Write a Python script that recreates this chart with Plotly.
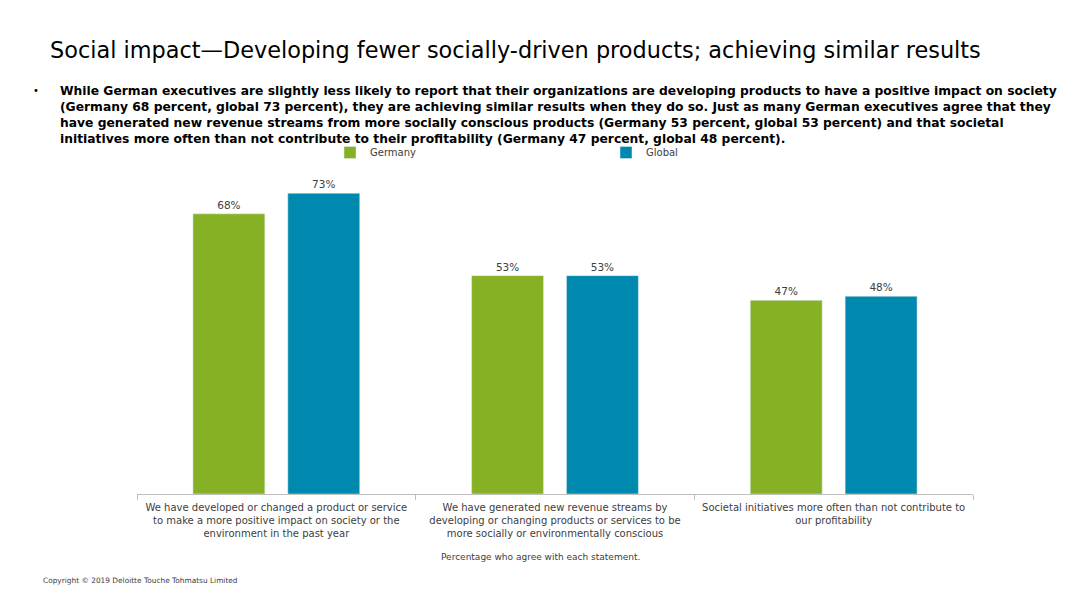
import plotly.graph_objects as go

categories = [
    "We have developed or changed a product or service<br>to make a more positive impact on society or the<br>environment in the past year",
    "We have generated new revenue streams by<br>developing or changing products or services to be<br>more socially or environmentally conscious",
    "Societal initiatives more often than not contribute to<br>our profitability",
]
germany = [68, 53, 47]
global_vals = [73, 53, 48]
series_names = ["Germany", "Global"]

GREEN = "#86B125"
BLUE = "#0089AE"
FONT = "DejaVu Sans"
TXT = "#404040"

W, H = 1080, 608
OFF = 8  # page body margin


def px(x):
    return (x - OFF) / W


def py(y):
    return 1 - (y - OFF) / H


fig = go.Figure()
for name, vals, col in [(series_names[0], germany, GREEN), (series_names[1], global_vals, BLUE)]:
    fig.add_trace(go.Bar(
        x=categories, y=vals, name=name, marker_color=col,
        text=[f"{v}%" for v in vals], textposition="outside",
        textfont=dict(family=FONT, size=10.5, color=TXT),
        cliponaxis=False,
    ))

fig.update_layout(
    width=W, height=H,
    margin=dict(l=0, r=0, t=0, b=0),
    paper_bgcolor="white", plot_bgcolor="white",
    barmode="group", bargap=0.319, bargroupgap=0.242,
    showlegend=True,
    legend=dict(orientation="h", x=px(330), y=py(138), xanchor="left", yanchor="top",
                entrywidth=231, entrywidthmode="pixels", itemwidth=30,
                font=dict(family=FONT, size=10, color=TXT), bgcolor="rgba(0,0,0,0)"),
    xaxis=dict(domain=[px(137), px(973)], showline=True, linecolor="#BFBFBF", linewidth=1,
               ticks="outside", tickson="boundaries", tickcolor="#BFBFBF", ticklen=5,
               ticklabelstandoff=4,
               tickfont=dict(family=FONT, size=10, color=TXT), showgrid=False),
    yaxis=dict(domain=[py(494), py(185)], range=[0, 75], visible=False, showgrid=False),
    font=dict(family=FONT, color=TXT),
)

fig.add_annotation(xref="paper", yref="paper", x=px(48), y=py(50), xanchor="left", yanchor="middle",
                   text="Social impact\u2014Developing fewer socially-driven products; achieving similar results",
                   showarrow=False, font=dict(family=FONT, size=22.4, color="#000000"))
fig.add_annotation(xref="paper", yref="paper", x=px(31), y=py(90), xanchor="left", yanchor="middle",
                   text="\u2022", showarrow=False, font=dict(family=FONT, size=10, color="#000000"))
fig.add_annotation(xref="paper", yref="paper", x=px(58), y=py(82), xanchor="left", yanchor="top",
                   align="left", showarrow=False,
                   text=("<b>While German executives are slightly less likely to report that their organizations are developing products to have a positive impact on society<br>"
                         "(Germany 68 percent, global 73 percent), they are achieving similar results when they do so. Just as many German executives agree that they<br>"
                         "have generated new revenue streams from more socially conscious products (Germany 53 percent, global 53 percent) and that societal<br>"
                         "initiatives more often than not contribute to their profitability (Germany 47 percent, global 48 percent).</b>"),
                   font=dict(family=FONT, size=12.3, color="#000000"))
fig.add_annotation(xref="paper", yref="paper", x=px(540), y=py(557), xanchor="center", yanchor="middle",
                   text="Percentage who agree with each statement.", showarrow=False,
                   font=dict(family=FONT, size=9, color=TXT))
fig.add_annotation(xref="paper", yref="paper", x=px(41), y=py(580), xanchor="left", yanchor="middle",
                   text="Copyright \u00a9 2019 Deloitte Touche Tohmatsu Limited", showarrow=False,
                   font=dict(family=FONT, size=7.4, color=TXT))

fig.write_html("out.html")
